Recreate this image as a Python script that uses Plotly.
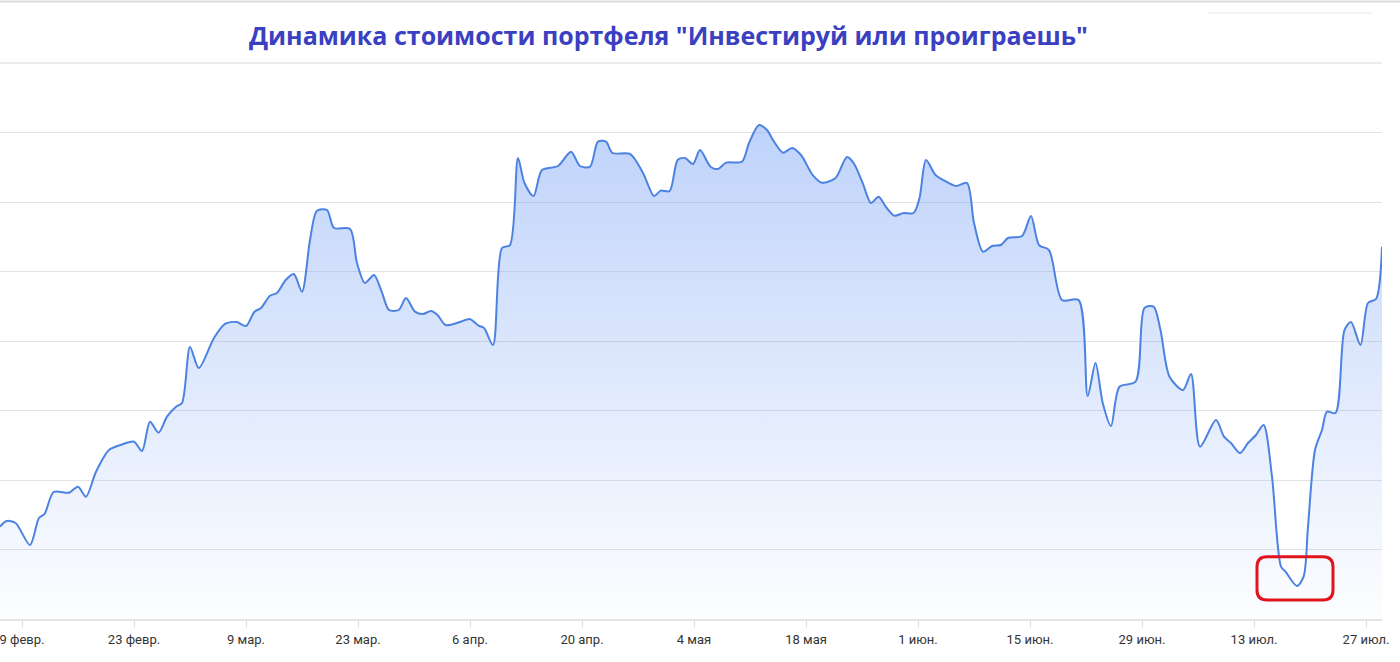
import pandas as pd
import plotly.graph_objects as go

# ---- data ----
base_date = "2023-02-09"
# day offsets from base date
day_offsets = [-2.75, -1.91, -0.80, 1.0, 2.125, 2.825, 3.95, 5.875, 7.0, 8.0,
               9.25, 10.875, 12.31, 14.0, 15.0, 16.0, 17.06, 18.125, 19.25, 20.0,
               21.0, 22.09, 24.0, 25.375, 26.825, 28.0, 29.06, 29.875, 31.0, 31.875,
               32.96, 33.975, 35.0, 36.0, 36.875, 38.125, 39.0, 41.0, 41.875, 42.875,
               44.0, 44.96, 45.875, 47.09, 48.0, 49.125, 50.125, 51.125, 51.94, 52.94,
               54.75, 55.95, 57.075, 57.75, 58.875, 60.0, 61.0, 62.0, 62.81, 63.94,
               65.0, 67.0, 68.625, 69.75, 71.0, 72.0, 73.0, 73.81, 76.0, 77.625,
               79.0, 79.84, 80.95, 81.96, 82.875, 83.875, 84.75, 86.06, 87.0, 88.0,
               90.0, 90.875, 92.125, 93.125, 94.0, 95.125, 96.25, 97.375, 98.84, 100.0,
               101.69, 103.125, 103.95, 105.09, 106.125, 107.075, 108.0, 109.06, 110.2, 111.45,
               112.19, 113.0, 114.19, 115.31, 116.75, 118.125, 119.0, 120.125, 121.25, 122.375,
               123.25, 125.0, 126.125, 127.125, 128.375, 130.0, 132.075, 133.21, 134.19, 135.09,
               136.125, 137.19, 139.19, 140.31, 141.45, 142.31, 143.44, 145.125, 146.125, 147.25,
               149.25, 150.25, 151.125, 152.25, 153.25, 154.25, 155.2, 156.25, 157.375, 157.94,
               159.375, 160.2, 160.75, 161.625, 162.5, 163.125, 164.19, 165.31, 166.125, 167.31,
               168.25, 169.25, 170.0]
portfolio_values = [1.328, 1.410, 1.381, 1.065, 1.453, 1.511, 1.827, 1.817, 1.904, 1.760,
                    2.119, 2.432, 2.504, 2.551, 2.417, 2.839, 2.681, 2.911, 3.055, 3.108,
                    3.914, 3.612, 4.043, 4.245, 4.273, 4.216, 4.422, 4.475, 4.652, 4.691,
                    4.878, 4.964, 4.709, 5.453, 5.875, 5.885, 5.626, 5.612, 5.122, 4.835,
                    4.950, 4.709, 4.446, 4.446, 4.619, 4.422, 4.388, 4.432, 4.374, 4.230,
                    4.273, 4.317, 4.220, 4.187, 3.942, 5.338, 5.381, 6.633, 6.273, 6.086,
                    6.460, 6.518, 6.724, 6.518, 6.508, 6.868, 6.868, 6.705, 6.691, 6.417,
                    6.086, 6.163, 6.158, 6.604, 6.633, 6.547, 6.748, 6.508, 6.475, 6.566,
                    6.580, 6.849, 7.108, 7.036, 6.868, 6.709, 6.777, 6.676, 6.388, 6.278,
                    6.345, 6.647, 6.561, 6.273, 5.986, 6.076, 5.928, 5.803, 5.842, 5.842,
                    6.058, 6.604, 6.388, 6.306, 6.230, 6.273, 5.698, 5.285, 5.367, 5.381,
                    5.482, 5.511, 5.799, 5.381, 5.309, 4.590, 4.590, 3.209, 3.683, 3.108,
                    2.777, 3.342, 3.414, 4.475, 4.494, 4.158, 3.486, 3.295, 3.525, 2.479,
                    2.863, 2.623, 2.532, 2.388, 2.532, 2.647, 2.791, 2.047, 0.753, 0.681,
                    0.475, 0.609, 1.328, 2.432, 2.719, 2.983, 2.964, 4.158, 4.273, 3.942,
                    4.547, 4.604, 5.357]

tick_dates = ["2023-02-09", "2023-02-23", "2023-03-09", "2023-03-23", "2023-04-06",
              "2023-04-20", "2023-05-04", "2023-05-18", "2023-06-01", "2023-06-15",
              "2023-06-29", "2023-07-13", "2023-07-27"]
tick_labels = ["9 февр.", "23 февр.", "9 мар.", "23 мар.", "6 апр.", "20 апр.",
               "4 мая", "18 мая", "1 июн.", "15 июн.", "29 июн.", "13 июл.", "27 июл."]

title_text = 'Динамика стоимости портфеля "Инвестируй или проиграешь"'

# ---- figure ----
dates = pd.Timestamp(base_date) + pd.to_timedelta(day_offsets, unit="D")
x_start = pd.Timestamp(base_date) + pd.Timedelta(days=-2.75)
x_end = pd.Timestamp(base_date) + pd.Timedelta(days=170)

fig = go.Figure()
fig.add_trace(go.Scatter(
    x=dates, y=portfolio_values, mode="lines",
    line=dict(color="#4c82e2", width=2, shape="spline", smoothing=0.8),
    fill="tozeroy",
    fillgradient=dict(type="vertical", start=0, stop=7.2,
                      colorscale=[[0, "rgba(120,160,245,0.02)"],
                                  [1, "rgba(110,155,245,0.45)"]]),
    hoverinfo="skip", showlegend=False,
))

# highlight box around the minimum, computed from the data
i_min = min(range(len(portfolio_values)), key=lambda i: portfolio_values[i])
span = 170 + 2.75
x0p = (day_offsets[i_min] - 5.0 + 2.75) / span
x1p = (day_offsets[i_min] + 4.5 + 2.75) / span
y0p = (portfolio_values[i_min] - 0.2) / 8
y1p = (portfolio_values[i_min] + 0.42) / 8
rx, ry = 10 / 1382, 10 / 556
path = (f"M {x0p+rx},{y0p} L {x1p-rx},{y0p} Q {x1p},{y0p} {x1p},{y0p+ry} "
        f"L {x1p},{y1p-ry} Q {x1p},{y1p} {x1p-rx},{y1p} L {x0p+rx},{y1p} "
        f"Q {x0p},{y1p} {x0p},{y1p-ry} L {x0p},{y0p+ry} Q {x0p},{y0p} {x0p+rx},{y0p} Z")
fig.add_shape(type="path", path=path, xref="paper", yref="paper",
              line=dict(color="#e0141c", width=3))

# decorative page lines
fig.add_shape(type="line", xref="paper", yref="paper", x0=-0.01, x1=1.02,
              y0=(619 - 1.5) / 556, y1=(619 - 1.5) / 556, line=dict(color="#dcdcdc", width=2))
fig.add_shape(type="line", xref="paper", yref="paper", x0=1208 / 1382, x1=1372 / 1382,
              y0=(619 - 13) / 556, y1=(619 - 13) / 556, line=dict(color="#f3f3f3", width=2))
fig.add_shape(type="line", xref="paper", yref="paper", x0=0, x1=1,
              y0=1, y1=1, line=dict(color="#ececec", width=2))

fig.add_annotation(text=f"<b>{title_text}</b>", xref="paper", yref="paper",
                   x=668 / 1382, y=(619 - 35) / 556, xanchor="center", yanchor="middle",
                   showarrow=False,
                   font=dict(family="Open Sans", size=25, color="#3b3fc2"))

fig.update_layout(
    width=1400, height=662,
    margin=dict(l=0, r=18, t=63, b=43),
    paper_bgcolor="white", plot_bgcolor="white",
    xaxis=dict(type="date", range=[x_start, x_end],
               tickvals=tick_dates, ticktext=tick_labels,
               ticks="outside", ticklen=7, tickcolor="#e0e0e0", tickwidth=1,
               showgrid=False, showline=True, linecolor="#e4e4e4", linewidth=2,
               tickfont=dict(family="Roboto", size=13, color="#333333"),
               ticklabeloverflow="allow",
               zeroline=False),
    yaxis=dict(range=[0, 8], dtick=1, showticklabels=False,
               showgrid=True, gridcolor="#e3e3e3", gridwidth=1,
               zeroline=False, showline=False, fixedrange=True),
)

fig.write_html("out.html", config={"displayModeBar": False},
               post_script="document.body.style.margin='0';document.body.style.overflow='hidden';")
